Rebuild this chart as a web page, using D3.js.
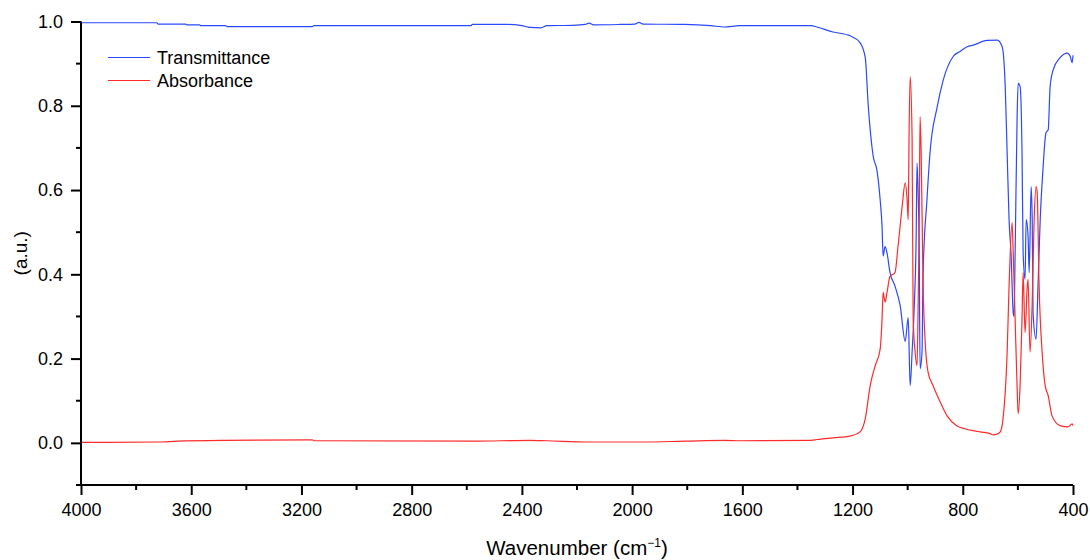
<!DOCTYPE html>
<html>
<head>
<meta charset="utf-8">
<script src="https://cdn.jsdelivr.net/npm/d3@7"></script>
<style>
  html, body { margin: 0; padding: 0; background: #fff; }
  svg { display: block; font-family: Arial, "Liberation Sans", sans-serif; }
</style>
</head>
<body>
<svg id="chart" width="1090" height="560"></svg>
<script>
// ---- data ----
const seriesNames = ["Transmittance", "Absorbance"];
const xTicks = [4000, 3600, 3200, 2800, 2400, 2000, 1600, 1200, 800, 400];
const yTicks = [0.0, 0.2, 0.4, 0.6, 0.8, 1.0];

const transWave = [4000, 3725, 3720, 3620, 3615, 3570, 3565, 3475, 3470, 3160, 3155, 2585, 2580, 2455, 2400, 2370, 2330, 2310, 2215, 2170, 2156, 2140, 2045, 1990, 1975, 1960, 1810, 1715, 1665, 1610, 1350, 1330,
  1271, 1209, 1173, 1154, 1143, 1125, 1111, 1100, 1093, 1089, 1082, 1075, 1064, 1046, 1027, 1009, 998, 991, 984, 977, 969, 966, 962, 958, 955, 948, 944, 930, 919, 893, 871, 835, 810, 784, 762, 712, 675,
  657, 646, 639, 632, 625, 617, 614, 610, 603, 599, 592, 585, 581, 574, 570, 563, 559, 552, 548, 545, 534, 527, 519, 509, 498, 490, 483, 472, 447, 421, 410, 403, 400];
const transValue = [0.997, 0.997, 0.994, 0.994, 0.992, 0.992, 0.990, 0.990, 0.988, 0.988, 0.990, 0.990, 0.993, 0.993, 0.990, 0.986, 0.985, 0.990, 0.991, 0.993, 0.996, 0.992, 0.993, 0.994, 0.998, 0.994, 0.993, 0.990, 0.987, 0.990, 0.990, 0.987,
  0.975, 0.966, 0.950, 0.915, 0.800, 0.680, 0.645, 0.578, 0.514, 0.443, 0.466, 0.451, 0.404, 0.372, 0.325, 0.241, 0.297, 0.136, 0.214, 0.309, 0.498, 0.664, 0.594, 0.451, 0.176, 0.214, 0.404, 0.577, 0.688, 0.797, 0.861, 0.917, 0.929, 0.940, 0.944, 0.955, 0.956,
  0.940, 0.846, 0.688, 0.530, 0.451, 0.309, 0.300, 0.451, 0.767, 0.853, 0.846, 0.688, 0.451, 0.388, 0.530, 0.490, 0.404, 0.608, 0.530, 0.309, 0.246, 0.372, 0.530, 0.649, 0.736, 0.743, 0.846, 0.885, 0.914, 0.925, 0.917, 0.902, 0.920];

const absWave = [4000, 3720, 3650, 3480, 3160, 3155, 2580, 2370, 2310, 2156, 1975, 1810, 1665, 1610, 1350, 1330,
  1271, 1209, 1173, 1154, 1136, 1118, 1100, 1093, 1089, 1082, 1075, 1064, 1046, 1035, 1020, 1009, 1002, 998, 995, 991, 984, 980, 973, 966, 962, 958, 955, 951, 944, 937, 926, 908, 882, 857, 821, 790, 762, 737, 701,
  690, 675, 664, 654, 639, 632, 621, 617, 610, 603, 599, 592, 585, 581, 574, 566, 563, 556, 548, 541, 534, 530, 523, 512, 501, 490, 476, 447, 418, 403, 400];
const absValue = [0.001, 0.002, 0.004, 0.006, 0.007, 0.005, 0.004, 0.006, 0.005, 0.002, 0.002, 0.004, 0.006, 0.005, 0.006, 0.008,
  0.012, 0.016, 0.026, 0.057, 0.136, 0.183, 0.222, 0.293, 0.357, 0.334, 0.357, 0.395, 0.404, 0.466, 0.561, 0.617, 0.577, 0.530, 0.727, 0.869, 0.727, 0.293, 0.215, 0.183, 0.325, 0.530, 0.774, 0.688, 0.372, 0.246, 0.168, 0.136, 0.097, 0.064, 0.040, 0.033, 0.029, 0.026, 0.022,
  0.019, 0.021, 0.026, 0.057, 0.215, 0.372, 0.523, 0.451, 0.293, 0.136, 0.069, 0.136, 0.293, 0.404, 0.262, 0.372, 0.388, 0.215, 0.334, 0.530, 0.608, 0.594, 0.372, 0.215, 0.136, 0.112, 0.064, 0.041, 0.038, 0.045, 0.041];

const colors = ["#2a48ff", "#ff2a2a"];

// ---- layout ----
const svg = d3.select("#chart");
const mLeft = 81, mRight = 1073, mTop = 21.5, mBottom = 485;

const x = d3.scaleLinear().domain([4000, 400]).range([mLeft, mRight]);
const y = d3.scaleLinear().domain([-0.1, 1.0]).range([mBottom, mTop]);

const series = [
  transWave.map((w, i) => [w, transValue[i]]),
  absWave.map((w, i) => [w, absValue[i]])
];

const line = d3.line().x(d => x(d[0])).y(d => y(d[1])).curve(d3.curveMonotoneX);

series.forEach((s, i) => {
  svg.append("path")
    .datum(s)
    .attr("fill", "none")
    .attr("stroke", colors[i])
    .attr("stroke-width", 1.2)
    .attr("stroke-linejoin", "round")
    .attr("d", line);
});

// ---- axes ----
const axisFont = 18;
const xAxis = d3.axisBottom(x).tickValues(xTicks).tickFormat(d3.format("d")).tickSize(10).tickPadding(8);
const gx = svg.append("g").attr("transform", `translate(0,${mBottom})`).call(xAxis);
const xMinor = d3.range(3800, 400, -400);
gx.selectAll(".minor").data(xMinor).enter().append("line")
  .attr("class", "minor")
  .attr("x1", d => x(d)).attr("x2", d => x(d))
  .attr("y1", 0).attr("y2", 5)
  .attr("stroke", "#000").attr("stroke-width", 2);

const yAxis = d3.axisLeft(y).tickValues(yTicks).tickFormat(d3.format(".1f")).tickSize(10).tickPadding(8);
const gy = svg.append("g").attr("transform", `translate(${mLeft},0)`).call(yAxis);
const yMinor = [-0.1, 0.1, 0.3, 0.5, 0.7, 0.9];
gy.selectAll(".minor").data(yMinor).enter().append("line")
  .attr("class", "minor")
  .attr("x1", 0).attr("x2", -5)
  .attr("y1", d => y(d)).attr("y2", d => y(d))
  .attr("stroke", "#000").attr("stroke-width", 2);

[gx, gy].forEach(g => {
  g.select(".domain").attr("stroke", "#000").attr("stroke-width", 2);
  g.selectAll(".tick line").attr("stroke", "#000").attr("stroke-width", 2);
  g.selectAll(".tick text")
    .attr("fill", "#000")
    .style("font-size", axisFont + "px")
    .style("font-family", "Arial, 'Liberation Sans', sans-serif");
});
gx.select(".domain").attr("d", `M${mLeft},0H${mRight}`);
gy.select(".domain").attr("d", `M0,${mBottom}V${mTop}`);

// ---- axis titles ----
const xTitle = svg.append("text")
  .attr("x", (mLeft + mRight) / 2)
  .attr("y", 555)
  .attr("text-anchor", "middle")
  .style("font-size", "20.5px")
  .attr("fill", "#000");
xTitle.append("tspan").text("Wavenumber (cm");
xTitle.append("tspan").attr("dy", -8).style("font-size", "12px").text("\u22121");
xTitle.append("tspan").attr("dy", 8).text(")");

svg.append("text")
  .attr("transform", `translate(27,${(mTop + mBottom) / 2}) rotate(-90)`)
  .attr("text-anchor", "middle")
  .style("font-size", "19px")
  .attr("fill", "#000")
  .text("(a.u.)");

// ---- legend ----
const legend = svg.append("g");
seriesNames.forEach((name, i) => {
  const ly = 57.5 + i * 23;
  legend.append("line")
    .attr("x1", 108).attr("x2", 150)
    .attr("y1", ly).attr("y2", ly)
    .attr("stroke", colors[i]).attr("stroke-width", 1.2);
  legend.append("text")
    .attr("x", 157).attr("y", ly + 6)
    .style("font-size", "18px")
    .attr("fill", "#000")
    .text(name);
});
</script>
</body>
</html>
